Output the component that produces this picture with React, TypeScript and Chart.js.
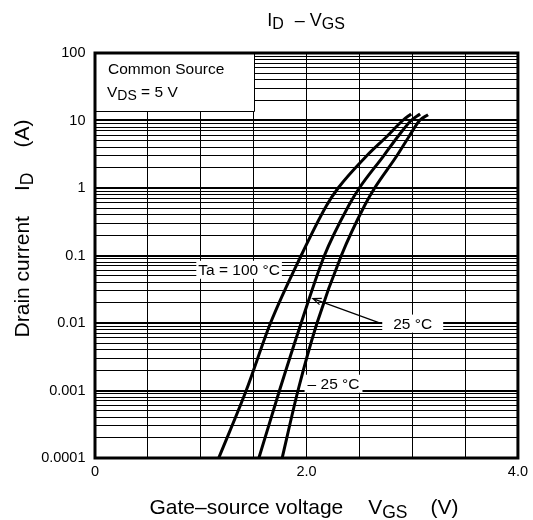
import React, { useEffect, useRef } from "react";
import { Chart, registerables } from "chart.js";

Chart.register(...registerables);

const FONT = '"Liberation Sans", Arial, Helvetica, sans-serif';

// ---- Data ----
const vgs100 = [1.17, 1.43, 1.66, 1.95, 2.19, 2.30, 2.57, 2.76, 2.91, 2.99];
const id100 = [0.0001, 0.001, 0.01, 0.1, 0.55, 1.0, 3.0, 5.8, 10, 12.5];

const vgs25 = [1.55, 1.745, 1.95, 2.17, 2.40, 2.50, 2.73, 2.865, 2.99, 3.075];
const id25 = [0.0001, 0.001, 0.01, 0.1, 0.55, 1.0, 3.0, 5.8, 10, 12.5];

const vgsM25 = [1.77, 1.92, 2.10, 2.33, 2.55, 2.645, 2.855, 2.97, 3.07, 3.15];
const idM25 = [0.0001, 0.001, 0.01, 0.1, 0.55, 1.0, 3.0, 5.8, 10, 12.2];

// ---- Axes ----
const yDecades = [0.0001, 0.001, 0.01, 0.1, 1, 10, 100];
const yTickLabels = ["0.0001", "0.001", "0.01", "0.1", "1", "10", "100"];
const xMin = 0;
const xMax = 4;
const xGridStep = 0.5;
const xLabelValues = [0, 2, 4];
const xLabelTexts = ["0", "2.0", "4.0"];

// ---- Annotations (data coordinates) ----
const condBoxRight = 1.5;
const condBoxBottom = 14;
const curveLabels = [
  { text: "Ta = 100 °C", x: 1.363, y: 0.0614, padX: 2 },
  { text: "25 °C", x: 3.005, y: 0.0098, padX: 11 },
  { text: "– 25 °C", x: 2.256, y: 0.00126, padX: 3 },
];
const arrowFrom = { x: 2.71, y: 0.0098 };
const arrowTo = { x: 2.06, y: 0.023 };

type Seg = { t?: string; sub?: boolean; gap?: number };

function segWidth(ctx: CanvasRenderingContext2D, segs: Seg[], size: number, subSize: number) {
  let w = 0;
  for (const s of segs) {
    if (s.gap) { w += s.gap; continue; }
    ctx.font = `${s.sub ? subSize : size}px ${FONT}`;
    w += ctx.measureText(s.t || "").width;
  }
  return w;
}

function drawRich(
  ctx: CanvasRenderingContext2D,
  segs: Seg[],
  x: number,
  y: number,
  size: number,
  subSize: number,
  subDy: number,
  align: "left" | "center"
) {
  let cx = align === "center" ? x - segWidth(ctx, segs, size, subSize) / 2 : x;
  ctx.textAlign = "left";
  ctx.textBaseline = "alphabetic";
  for (const s of segs) {
    if (s.gap) { cx += s.gap; continue; }
    ctx.font = `${s.sub ? subSize : size}px ${FONT}`;
    ctx.fillText(s.t || "", cx, y + (s.sub ? subDy : 0));
    cx += ctx.measureText(s.t || "").width;
  }
}

const isDecade = (v: number) => Math.abs(Math.log10(v) - Math.round(Math.log10(v))) < 1e-6;

const overlay = {
  id: "overlay",
  beforeDatasetsDraw(chart: any) {
    const { ctx, chartArea: a, scales } = chart;
    const xs = scales.x, ys = scales.y;
    ctx.save();
    // Condition box
    const bx = Math.round(xs.getPixelForValue(condBoxRight));
    const by = Math.round(ys.getPixelForValue(condBoxBottom));
    ctx.fillStyle = "#fff";
    ctx.fillRect(a.left, a.top, bx - a.left, by - a.top);
    ctx.strokeStyle = "#000";
    ctx.lineWidth = 1;
    ctx.beginPath();
    ctx.moveTo(bx + 0.5, a.top);
    ctx.lineTo(bx + 0.5, by + 0.5);
    ctx.lineTo(a.left, by + 0.5);
    ctx.stroke();
    ctx.fillStyle = "#000";
    drawRich(ctx, [{ t: "Common Source" }], a.left + 13, a.top + 20.5, 15.5, 15.5, 0, "left");
    drawRich(ctx, [{ t: "V" }, { t: "DS", sub: true }, { t: " = 5 V" }], a.left + 12, a.top + 44, 15.5, 14, 3, "left");

    // Curve labels with white backgrounds
    for (const L of curveLabels) {
      const px = xs.getPixelForValue(L.x);
      const py = ys.getPixelForValue(L.y);
      ctx.font = `15.5px ${FONT}`;
      const w = ctx.measureText(L.text).width;
      ctx.fillStyle = "#fff";
      ctx.fillRect(px - w / 2 - L.padX, py - 9, w + 2 * L.padX, 18);
      ctx.fillStyle = "#000";
      ctx.textAlign = "center";
      ctx.textBaseline = "middle";
      ctx.fillText(L.text, px, py + 1);
    }
    ctx.restore();
  },
  afterDatasetsDraw(chart: any) {
    const { ctx, chartArea: a, scales } = chart;
    const xs = scales.x, ys = scales.y;
    ctx.save();
    // Arrow
    const x1 = xs.getPixelForValue(arrowFrom.x), y1 = ys.getPixelForValue(arrowFrom.y);
    const x2 = xs.getPixelForValue(arrowTo.x), y2 = ys.getPixelForValue(arrowTo.y);
    ctx.strokeStyle = "#000";
    ctx.lineWidth = 1.2;
    ctx.beginPath();
    ctx.moveTo(x1, y1);
    ctx.lineTo(x2, y2);
    const ang = Math.atan2(y1 - y2, x1 - x2);
    const hl = 9, ha = 0.38;
    ctx.moveTo(x2 + hl * Math.cos(ang + ha), y2 + hl * Math.sin(ang + ha));
    ctx.lineTo(x2, y2);
    ctx.lineTo(x2 + hl * Math.cos(ang - ha), y2 + hl * Math.sin(ang - ha));
    ctx.stroke();
    // Frame
    ctx.lineWidth = 3;
    ctx.strokeRect(a.left, a.top, a.right - a.left, a.bottom - a.top);
    ctx.restore();
  },
  afterDraw(chart: any) {
    const { ctx, chartArea: a } = chart;
    ctx.save();
    ctx.fillStyle = "#000";
    // Title
    drawRich(
      ctx,
      [{ t: "I" }, { t: "D", sub: true }, { gap: 11 }, { t: "–" }, { gap: 5 }, { t: "V" }, { t: "GS", sub: true }],
      306,
      25.5,
      18,
      16,
      3,
      "center"
    );
    // X title
    drawRich(
      ctx,
      [{ t: "Gate–source voltage" }, { gap: 25 }, { t: "V" }, { t: "GS", sub: true }, { gap: 23 }, { t: "(V)" }],
      304,
      514,
      21,
      17.5,
      4,
      "center"
    );
    // Y title (rotated)
    ctx.translate(29, (a.top + a.bottom) / 2 - 27);
    ctx.rotate(-Math.PI / 2);
    drawRich(
      ctx,
      [{ t: "Drain current" }, { gap: 25 }, { t: "I" }, { t: "D", sub: true }, { gap: 25 }, { t: "(A)" }],
      0,
      0,
      21,
      17.5,
      4,
      "center"
    );
    ctx.restore();
  },
};

function buildYTicks() {
  const out: number[] = [];
  for (let i = 0; i < yDecades.length - 1; i++) {
    for (let d = 1; d <= 9; d++) out.push(d * yDecades[i]);
  }
  out.push(yDecades[yDecades.length - 1]);
  return out;
}

function series(xs: number[], ys: number[]) {
  return xs.map((v, i) => ({ x: v, y: ys[i] }));
}

export default function App() {
  const ref = useRef<HTMLCanvasElement | null>(null);

  useEffect(() => {
    document.body.style.margin = "0";
    const canvas = ref.current;
    if (!canvas) return;
    Chart.defaults.font.family = FONT;
    Chart.defaults.color = "#000";

    const ds = (data: any[]) => ({
      data,
      showLine: true,
      borderColor: "#000",
      backgroundColor: "#000",
      borderWidth: 3,
      pointRadius: 0,
      pointHoverRadius: 0,
      cubicInterpolationMode: "monotone" as const,
      fill: false,
    });

    const chart = new Chart(canvas, {
      type: "scatter",
      data: {
        datasets: [
          ds(series(vgs100, id100)),
          ds(series(vgs25, id25)),
          ds(series(vgsM25, idM25)),
        ],
      },
      options: {
        animation: false,
        responsive: false,
        devicePixelRatio: 1,
        events: [],
        layout: { padding: { left: 0, right: 11, top: 53, bottom: 0 } },
        plugins: { legend: { display: false }, tooltip: { enabled: false }, title: { display: false } },
        scales: {
          x: {
            type: "linear",
            min: xMin,
            max: xMax,
            afterFit: (s: any) => { s.height = 62; },
            ticks: {
              stepSize: xGridStep,
              autoSkip: false,
              maxRotation: 0,
              padding: 5,
              font: { size: 14.5 },
              color: "#000",
              callback: (v: any) => {
                const i = xLabelValues.findIndex((t) => Math.abs(t - Number(v)) < 1e-9);
                return i >= 0 ? xLabelTexts[i] : "";
              },
            },
            grid: { color: "#000", lineWidth: 1, drawTicks: false, tickLength: 0 },
            border: { display: false },
          },
          y: {
            type: "logarithmic",
            min: yDecades[0],
            max: yDecades[yDecades.length - 1],
            afterFit: (s: any) => { s.width = 95; },
            afterBuildTicks: (s: any) => { s.ticks = buildYTicks().map((v) => ({ value: v })); },
            ticks: {
              autoSkip: false,
              padding: 9.5,
              font: { size: 14.5 },
              color: "#000",
              callback: (v: any) => {
                const n = Number(v);
                if (!isDecade(n)) return "";
                const i = yDecades.findIndex((d) => Math.abs(Math.log10(d) - Math.log10(n)) < 1e-6);
                return i >= 0 ? yTickLabels[i] : "";
              },
            },
            grid: {
              color: "#000",
              drawTicks: false,
              tickLength: 0,
              lineWidth: (c: any) => (c.tick && isDecade(c.tick.value) ? 2 : 1),
            },
            border: { display: false },
          },
        },
      },
      plugins: [overlay],
    });
    return () => chart.destroy();
  }, []);

  return <canvas ref={ref} width={533} height={520} style={{ display: "block" }} />;
}
